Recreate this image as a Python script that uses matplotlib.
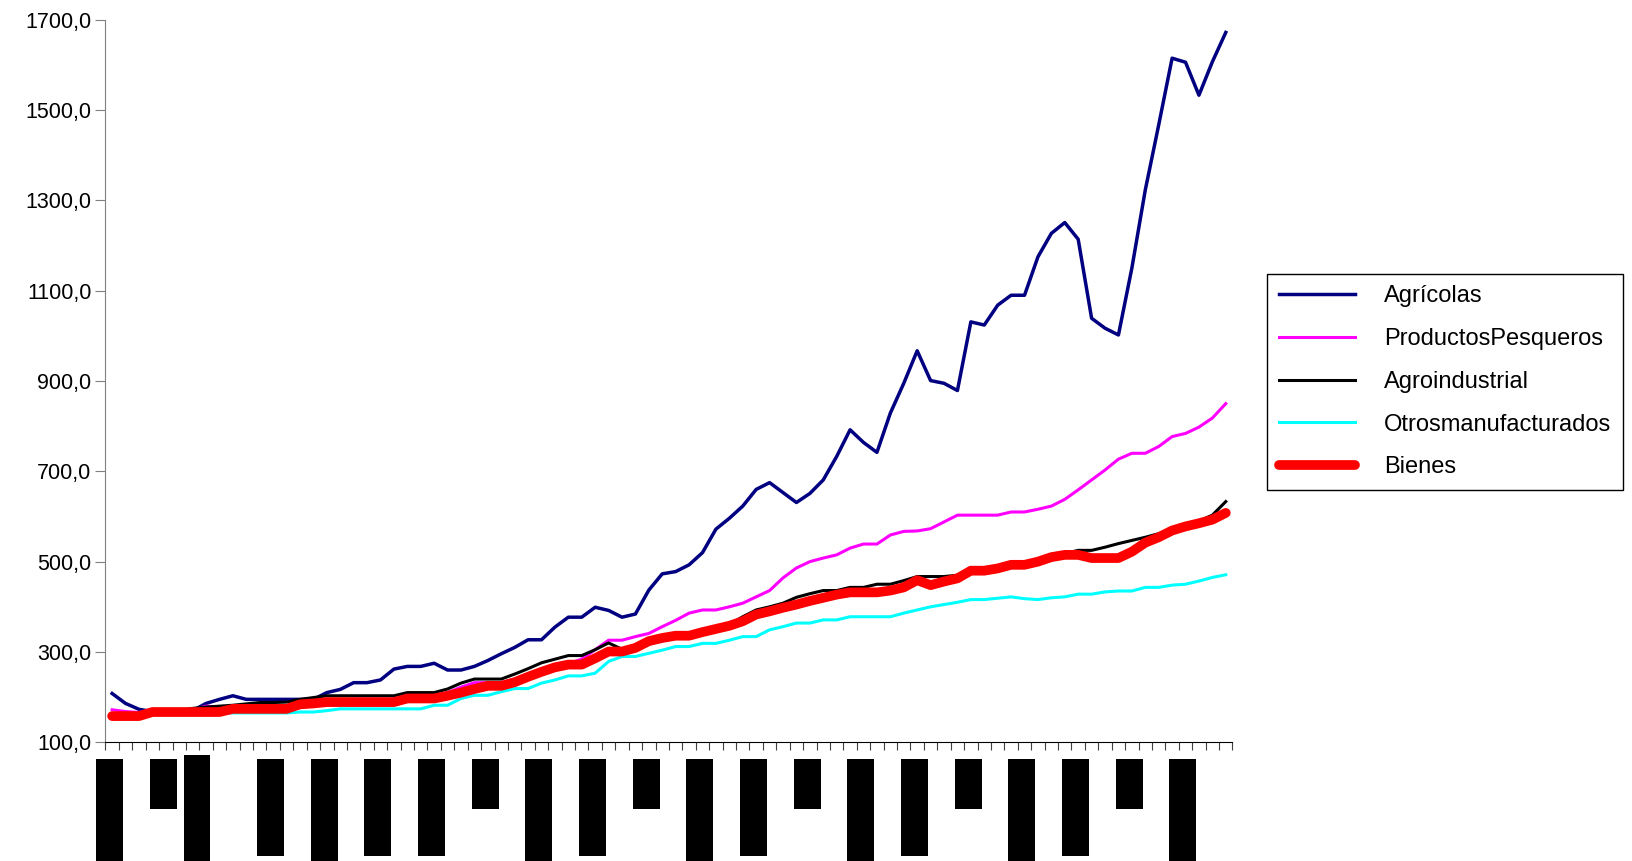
import numpy as np
import matplotlib
matplotlib.use('Agg')
import matplotlib.pyplot as plt
from matplotlib.patches import Rectangle
from matplotlib.ticker import FuncFormatter
import matplotlib.transforms as mtransforms

plt.rcParams['font.family'] = ['Liberation Sans', 'DejaVu Sans']

# quarterly index values (84 periods)
agricolas = [208, 186, 173, 168, 168, 168, 170, 186, 195, 203,
             195, 195, 195, 195, 195, 195, 210, 217, 232, 232,
             238, 262, 268, 268, 275, 260, 260, 268, 281, 296,
             310, 327, 327, 355, 377, 377, 399, 392, 377, 384,
             437, 473, 478, 493, 520, 572, 596, 623, 660, 675,
             653, 631, 651, 681, 733, 792, 764, 742, 829, 895,
             967, 901, 895, 879, 1031, 1024, 1068, 1090, 1090, 1175,
             1227, 1251, 1214, 1039, 1017, 1002, 1150, 1323, 1467, 1615,
             1606, 1533, 1607, 1672]

pesqueros = [172, 168, 166, 168, 168, 168, 172, 180, 178, 176,
             175, 175, 176, 178, 183, 186, 190, 193, 195, 195,
             195, 195, 200, 200, 200, 210, 222, 232, 232, 232,
             240, 250, 262, 268, 274, 284, 305, 326, 326, 334,
             341, 356, 370, 386, 393, 393, 400, 408, 422, 436,
             464, 486, 500, 508, 515, 530, 539, 539, 559, 567,
             568, 573, 588, 603, 603, 603, 603, 610, 610, 616,
             623, 638, 659, 681, 703, 727, 740, 740, 755, 777,
             784, 798, 818, 850]

agroindustrial = [160, 160, 162, 167, 167, 170, 175, 178, 180, 182,
                  185, 188, 188, 189, 195, 199, 203, 203, 203, 203,
                  203, 203, 210, 210, 210, 218, 231, 240, 240, 240,
                  251, 263, 276, 284, 292, 292, 305, 320, 306, 311,
                  325, 333, 338, 338, 346, 353, 361, 378, 393, 400,
                  408, 421, 429, 436, 436, 443, 443, 450, 450, 458,
                  467, 467, 467, 470, 482, 482, 487, 495, 495, 502,
                  512, 518, 525, 525, 532, 540, 547, 554, 562, 571,
                  580, 590, 603, 633]

otros = [158, 158, 160, 165, 165, 165, 165, 165, 165, 165,
         165, 165, 165, 165, 167, 167, 170, 174, 174, 174,
         174, 174, 174, 174, 182, 182, 197, 204, 204, 212,
         219, 219, 231, 238, 247, 247, 253, 279, 290, 290,
         297, 304, 312, 312, 319, 319, 326, 334, 334, 349,
         356, 364, 364, 371, 371, 378, 378, 378, 378, 386,
         393, 400, 405, 410, 416, 416, 419, 422, 418, 416,
         420, 422, 428, 428, 433, 435, 435, 443, 443, 448,
         450, 457, 465, 471]

bienes = [158, 158, 158, 167, 167, 167, 167, 167, 167, 174,
          174, 174, 174, 174, 184, 186, 189, 189, 189, 189,
          189, 189, 197, 197, 197, 203, 210, 218, 225, 225,
          233, 245, 256, 266, 272, 272, 286, 301, 301, 309,
          324, 331, 336, 336, 344, 351, 358, 368, 383, 390,
          398, 405, 413, 420, 427, 432, 432, 432, 436, 443,
          459, 448, 456, 463, 480, 480, 485, 493, 493, 500,
          510, 515, 515, 508, 508, 508, 522, 542, 554, 569,
          578, 585, 593, 608]

series_names = ['Agrícolas', 'ProductosPesqueros', 'Agroindustrial',
                'Otrosmanufacturados', 'Bienes']

y_ticks = [100, 300, 500, 700, 900, 1100, 1300, 1500, 1700]

# the year labels below the axis show up as solid black blocks
label_kind = ['L', 'S', 'L', 'M', 'L', 'M', 'M', 'S', 'L', 'M', 'S',
              'L', 'M', 'S', 'L', 'M', 'S', 'L', 'M', 'S', 'L']

x = np.arange(len(bienes))

fig = plt.figure(figsize=(16.32, 8.61), dpi=100)
ax = fig.add_axes([0.0646, 0.1379, 0.6906, 0.8391])

ax.plot(x, agricolas, color='#000080', lw=2.5, label=series_names[0])
ax.plot(x, pesqueros, color='#FF00FF', lw=2.2, label=series_names[1])
ax.plot(x, agroindustrial, color='black', lw=2.2, label=series_names[2])
ax.plot(x, otros, color='#00FFFF', lw=2.2, label=series_names[3])
ax.plot(x, bienes, color='#FF0000', lw=7, solid_capstyle='round',
        solid_joinstyle='round', label=series_names[4])

ax.set_xlim(-0.5, len(bienes) - 0.5)
ax.set_ylim(100, 1700)
ax.set_yticks(y_ticks)
ax.yaxis.set_major_formatter(FuncFormatter(lambda v, p: f"{v:.1f}".replace('.', ',')))
ax.set_xticks(np.arange(-0.5, len(bienes), 1.0))
ax.set_xticklabels([])

for s in ['top', 'right']:
    ax.spines[s].set_visible(False)
ax.spines['left'].set_color('#808080')
ax.spines['bottom'].set_color('black')
ax.tick_params(axis='y', direction='out', length=7, color='#808080',
               labelsize=15.5, pad=3)
ax.tick_params(axis='x', direction='out', length=6, color='#404040')

# blocks under the x axis
trans = mtransforms.blended_transform_factory(ax.transData, ax.transAxes)
bottoms = {'L': -0.2, 'M': -0.158, 'S': -0.0923}
for k, kind in enumerate(label_kind):
    cx = 4 * k - 0.2
    top = -0.0231
    if k == 2:
        cx = 6.33
        top = -0.0176
    r = Rectangle((cx - 1.0, bottoms[kind]), 2.0, top - bottoms[kind],
                  transform=trans, facecolor='black', edgecolor='none',
                  clip_on=False)
    ax.add_patch(r)

leg = ax.legend(loc='upper left', bbox_to_anchor=(0.769, 0.696),
                bbox_transform=fig.transFigure, fontsize=17,
                handlelength=3.25, handletextpad=1.2, labelspacing=0.88,
                borderpad=0.5, fancybox=False, framealpha=1,
                edgecolor='black')
leg.get_frame().set_linewidth(1.0)

fig.savefig('out.png', dpi=100)
